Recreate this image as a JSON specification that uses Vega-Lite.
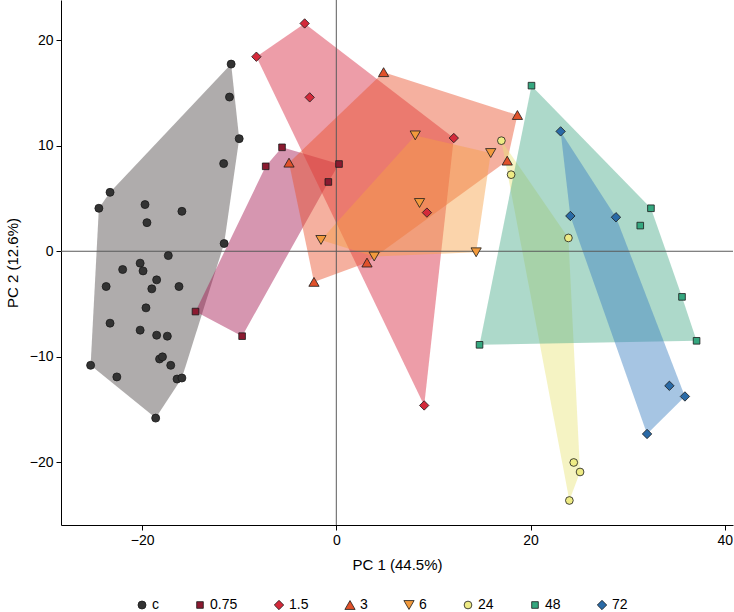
{
  "$schema": "https://vega.github.io/schema/vega-lite/v6.json",
  "width": 672,
  "height": 525,
  "autosize": {"type": "none"},
  "padding": {"left": 61, "top": 0, "right": 1, "bottom": 87},
  "background": "white",
  "config": {
    "view": {"stroke": null},
    "font": "Liberation Sans",
    "axis": {
      "grid": false,
      "domainColor": "black",
      "domainWidth": 1,
      "tickColor": "black",
      "tickSize": 5,
      "labelFont": "Liberation Sans",
      "labelFontSize": 14,
      "labelColor": "black",
      "labelPadding": 3,
      "titleFont": "Liberation Sans",
      "titleFontSize": 15,
      "titleFontWeight": "normal",
      "titleColor": "black"
    },
    "legend": {
      "labelFont": "Liberation Sans",
      "labelFontSize": 14,
      "labelColor": "black"
    }
  },
  "data": {
    "values": [
      {"group": "c", "pc1": -10.83, "pc2": 17.72, "h": 1},
      {"group": "c", "pc1": -11.0, "pc2": 14.6, "h": null},
      {"group": "c", "pc1": -10.0, "pc2": 10.66, "h": 2},
      {"group": "c", "pc1": -11.6, "pc2": 8.3, "h": null},
      {"group": "c", "pc1": -23.3, "pc2": 5.58, "h": 8},
      {"group": "c", "pc1": -24.45, "pc2": 4.07, "h": 7},
      {"group": "c", "pc1": -19.7, "pc2": 4.42, "h": null},
      {"group": "c", "pc1": -19.5, "pc2": 2.71, "h": null},
      {"group": "c", "pc1": -15.9, "pc2": 3.78, "h": null},
      {"group": "c", "pc1": -11.55, "pc2": 0.73, "h": 3},
      {"group": "c", "pc1": -17.3, "pc2": -0.41, "h": null},
      {"group": "c", "pc1": -20.2, "pc2": -1.13, "h": null},
      {"group": "c", "pc1": -22.0, "pc2": -1.73, "h": null},
      {"group": "c", "pc1": -19.9, "pc2": -1.86, "h": null},
      {"group": "c", "pc1": -23.7, "pc2": -3.34, "h": null},
      {"group": "c", "pc1": -18.5, "pc2": -2.71, "h": null},
      {"group": "c", "pc1": -16.2, "pc2": -3.34, "h": null},
      {"group": "c", "pc1": -19.0, "pc2": -3.56, "h": null},
      {"group": "c", "pc1": -19.6, "pc2": -5.36, "h": null},
      {"group": "c", "pc1": -23.3, "pc2": -6.81, "h": null},
      {"group": "c", "pc1": -20.2, "pc2": -7.47, "h": null},
      {"group": "c", "pc1": -18.5, "pc2": -7.95, "h": null},
      {"group": "c", "pc1": -17.4, "pc2": -8.04, "h": null},
      {"group": "c", "pc1": -18.2, "pc2": -10.2, "h": null},
      {"group": "c", "pc1": -17.9, "pc2": -10.0, "h": null},
      {"group": "c", "pc1": -17.05, "pc2": -10.8, "h": null},
      {"group": "c", "pc1": -25.3, "pc2": -10.8, "h": 6},
      {"group": "c", "pc1": -22.6, "pc2": -11.9, "h": null},
      {"group": "c", "pc1": -16.4, "pc2": -12.1, "h": null},
      {"group": "c", "pc1": -15.9, "pc2": -12.0, "h": 4},
      {"group": "c", "pc1": -18.6, "pc2": -15.8, "h": 5},

      {"group": "0.75", "pc1": -14.5, "pc2": -5.71, "h": 1},
      {"group": "0.75", "pc1": -7.27, "pc2": 8.04, "h": 2},
      {"group": "0.75", "pc1": -5.59, "pc2": 9.84, "h": 3},
      {"group": "0.75", "pc1": 0.28, "pc2": 8.26, "h": 4},
      {"group": "0.75", "pc1": -0.82, "pc2": 6.56, "h": 5},
      {"group": "0.75", "pc1": -9.7, "pc2": -8.04, "h": 6},

      {"group": "1.5", "pc1": -8.23, "pc2": 18.42, "h": 1},
      {"group": "1.5", "pc1": -3.26, "pc2": 21.57, "h": 2},
      {"group": "1.5", "pc1": -2.74, "pc2": 14.57, "h": null},
      {"group": "1.5", "pc1": 12.1, "pc2": 10.72, "h": 3},
      {"group": "1.5", "pc1": 9.33, "pc2": 3.66, "h": null},
      {"group": "1.5", "pc1": 9.05, "pc2": -14.6, "h": 4},

      {"group": "3", "pc1": -4.87, "pc2": 8.39, "h": 1},
      {"group": "3", "pc1": 4.87, "pc2": 16.96, "h": 2},
      {"group": "3", "pc1": 18.65, "pc2": 12.9, "h": 3},
      {"group": "3", "pc1": 17.6, "pc2": 8.58, "h": 4},
      {"group": "3", "pc1": 3.16, "pc2": -1.07, "h": 5},
      {"group": "3", "pc1": -2.3, "pc2": -2.9, "h": 6},

      {"group": "6", "pc1": -1.58, "pc2": 1.07, "h": 1},
      {"group": "6", "pc1": 8.13, "pc2": 10.97, "h": 2},
      {"group": "6", "pc1": 15.9, "pc2": 9.3, "h": 3},
      {"group": "6", "pc1": 8.57, "pc2": 4.57, "h": null},
      {"group": "6", "pc1": 14.4, "pc2": -0.1, "h": 4},
      {"group": "6", "pc1": 3.9, "pc2": -0.5, "h": 5},

      {"group": "24", "pc1": 17.0, "pc2": 10.47, "h": 1},
      {"group": "24", "pc1": 18.0, "pc2": 7.25, "h": null},
      {"group": "24", "pc1": 23.9, "pc2": 1.26, "h": 2},
      {"group": "24", "pc1": 24.45, "pc2": -20.0, "h": null},
      {"group": "24", "pc1": 25.1, "pc2": -20.9, "h": 3},
      {"group": "24", "pc1": 24.0, "pc2": -23.6, "h": 4},

      {"group": "48", "pc1": 20.1, "pc2": 15.68, "h": 1},
      {"group": "48", "pc1": 32.4, "pc2": 4.07, "h": 2},
      {"group": "48", "pc1": 31.3, "pc2": 2.43, "h": null},
      {"group": "48", "pc1": 35.6, "pc2": -4.32, "h": 3},
      {"group": "48", "pc1": 37.1, "pc2": -8.48, "h": 4},
      {"group": "48", "pc1": 14.75, "pc2": -8.86, "h": 5},

      {"group": "72", "pc1": 23.1, "pc2": 11.35, "h": 1},
      {"group": "72", "pc1": 24.1, "pc2": 3.34, "h": 5},
      {"group": "72", "pc1": 28.8, "pc2": 3.22, "h": 2},
      {"group": "72", "pc1": 34.3, "pc2": -12.74, "h": null},
      {"group": "72", "pc1": 35.9, "pc2": -13.75, "h": 3},
      {"group": "72", "pc1": 32.0, "pc2": -17.3, "h": 4}
    ]
  },
  "layer": [
    {
      "transform": [{"filter": "datum.h != null"}],
      "mark": {"type": "line", "stroke": null, "strokeWidth": 0, "fillOpacity": 0.45},
      "encoding": {
        "x": {"field": "pc1", "type": "quantitative", "scale": {"domain": [-28.35, 40.85], "nice": false, "zero": false},
          "axis": {"values": [-20, 0, 20, 40], "title": "PC 1 (44.5%)", "titlePadding": 10}},
        "y": {"field": "pc2", "type": "quantitative", "scale": {"domain": [-25.92, 23.79], "nice": false, "zero": false},
          "axis": {"values": [-20, -10, 0, 10, 20], "title": "PC 2 (12.6%)", "titlePadding": 9}},
        "order": {"field": "h", "type": "quantitative"},
        "fill": {
          "field": "group", "type": "nominal",
          "sort": ["c", "0.75", "1.5", "3", "6", "24", "48", "72"],
          "scale": {
            "range": ["#4d4646", "#a3174f", "#d7263d", "#e8502a", "#f7a044", "#e8e47a", "#4aab8a", "#3a7fc0"]
          },
          "legend": null
        }
      }
    },
    {
      "data": {"values": [{}]},
      "mark": {"type": "rule", "color": "#5a5a5a", "strokeWidth": 1},
      "encoding": {"x": {"datum": 0}}
    },
    {
      "data": {"values": [{}]},
      "mark": {"type": "rule", "color": "#5a5a5a", "strokeWidth": 1},
      "encoding": {"y": {"datum": 0}}
    },
    {
      "mark": {"type": "point", "filled": true, "stroke": "#1a1a1a", "strokeWidth": 0.8, "opacity": 1},
      "encoding": {
        "x": {"field": "pc1", "type": "quantitative"},
        "y": {"field": "pc2", "type": "quantitative"},
        "color": {
          "field": "group", "type": "nominal",
          "scale": {
            "domain": ["c", "0.75", "1.5", "3", "6", "24", "48", "72"],
            "range": ["#333333", "#8b1a30", "#d42a3a", "#e0512a", "#f29a3c", "#eeeb85", "#35a77f", "#2a6aa6"]
          },
          "legend": {
            "title": null,
            "orient": "none",
            "direction": "horizontal",
            "legendX": 74,
            "legendY": 598,
            "columnPadding": 34,
            "labelOffset": 3,
            "symbolStrokeColor": "#1a1a1a",
            "symbolStrokeWidth": 0.8
          }
        },
        "shape": {
          "field": "group", "type": "nominal",
          "scale": {
            "domain": ["c", "0.75", "1.5", "3", "6", "24", "48", "72"],
            "range": ["circle", "square", "diamond", "triangle-up", "triangle-down", "circle", "square", "diamond"]
          }
        },
        "size": {
          "field": "group", "type": "nominal",
          "scale": {
            "type": "ordinal",
            "domain": ["c", "0.75", "1.5", "3", "6", "24", "48", "72"],
            "range": [64, 44, 88, 105, 105, 60, 44, 88]
          }
        }
      }
    }
  ]
}
